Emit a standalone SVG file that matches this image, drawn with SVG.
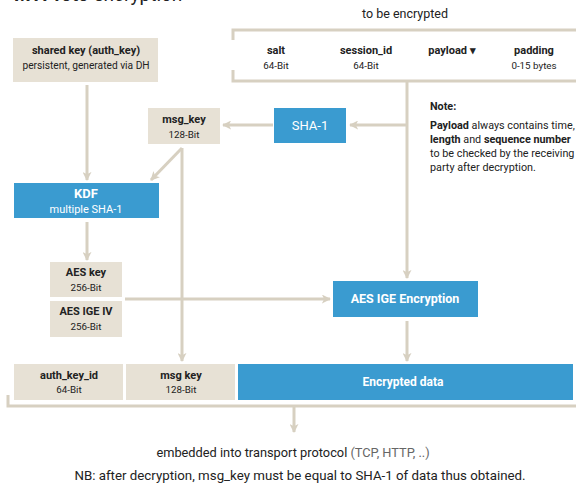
<svg xmlns="http://www.w3.org/2000/svg" width="576" height="484" viewBox="0 0 576 484">
<style>
text{font-family:Roboto,"Liberation Sans",sans-serif;fill:#222;}
.b{font-weight:bold;}
.t{font-size:11px;text-anchor:middle;}
.s{font-size:9.8px;text-anchor:middle;}
.w{fill:#fff;}
.beige{fill:#e7e1d5;}
.blue{fill:#3a9bd0;}
.ln{stroke:#d7d0c1;stroke-width:3;fill:none;}
.n{font-size:10.8px;}
</style>
<defs>
<marker id="ah" viewBox="0 0 10 10" refX="9" refY="5" markerWidth="9" markerHeight="9" markerUnits="userSpaceOnUse" orient="auto">
<path d="M0,0 L10,5 L0,10 L2.5,5 Z" fill="#d7d0c1"/>
</marker>
</defs>
<rect width="576" height="484" fill="#fff"/>
<text x="14" y="1" style="font-size:19px"><tspan class="b">MTProto</tspan> encryption</text>

<g id="connectors">
<polyline class="ln" points="233,40 233,30 576,30"/>
<polyline class="ln" points="233,70 233,81 576,81"/>
<line class="ln" x1="407" y1="81" x2="407" y2="278" marker-end="url(#ah)"/>
<line class="ln" x1="407" y1="125" x2="350" y2="125" marker-end="url(#ah)"/>
<line class="ln" x1="273" y1="125" x2="223" y2="125" marker-end="url(#ah)"/>
<line class="ln" x1="87" y1="85" x2="87" y2="180" marker-end="url(#ah)"/>
<line class="ln" x1="182" y1="148" x2="151" y2="180" marker-end="url(#ah)"/>
<line class="ln" x1="182" y1="148" x2="182" y2="361" marker-end="url(#ah)"/>
<line class="ln" x1="87" y1="222" x2="87" y2="260" marker-end="url(#ah)"/>
<line class="ln" x1="125" y1="299" x2="330" y2="299" marker-end="url(#ah)"/>
<line class="ln" x1="407" y1="321" x2="407" y2="361" marker-end="url(#ah)"/>
<polyline class="ln" points="8,395 8,406 576,406"/>
<line class="ln" x1="294" y1="406" x2="294" y2="432" marker-end="url(#ah)"/>
</g>

<g id="shared-key">
<rect class="beige" x="13" y="38" width="145" height="44"/>
<text class="t b" x="86" y="54">shared key (auth_key)</text>
<text class="s" x="86" y="69" style="font-size:10.2px">persistent, generated via DH</text>
</g>

<g id="to-be-encrypted">
<text x="405" y="18" style="font-size:12.5px;text-anchor:middle">to be encrypted</text>
<text class="t b" x="276" y="54">salt</text>
<text class="s" x="276" y="69">64-Bit</text>
<text class="t b" x="366" y="54">session_id</text>
<text class="s" x="366" y="69">64-Bit</text>
<text class="t b" x="452" y="54">payload ▾</text>
<text class="t b" x="534" y="54">padding</text>
<text class="s" x="534" y="69">0-15 bytes</text>
</g>

<g id="sha1">
<rect class="blue" x="274" y="108" width="72" height="35"/>
<text class="w" x="310" y="130" style="font-size:13px;text-anchor:middle">SHA-1</text>
</g>

<g id="msg-key">
<rect class="beige" x="148" y="108" width="72" height="36"/>
<text class="t b" x="184" y="123">msg_key</text>
<text class="s" x="184" y="138">128-Bit</text>
</g>

<g id="note">
<text x="430" y="110" class="n b">Note:</text>
<text x="430" y="129" class="n"><tspan class="b">Payload</tspan> always contains time,</text>
<text x="430" y="143" class="n"><tspan class="b">length</tspan> and <tspan class="b">sequence number</tspan></text>
<text x="430" y="157" class="n">to be checked by the receiving</text>
<text x="430" y="171" class="n">party after decryption.</text>
</g>

<g id="kdf">
<rect class="blue" x="14" y="183" width="145" height="35"/>
<text class="w b" x="86" y="198" style="font-size:13px;text-anchor:middle">KDF</text>
<text class="w" x="86" y="213" style="font-size:11px;text-anchor:middle">multiple SHA-1</text>
</g>

<g id="aes-key">
<rect class="beige" x="50" y="262" width="72" height="35"/>
<text class="t b" x="86" y="276">AES key</text>
<text class="s" x="86" y="291">256-Bit</text>
</g>

<g id="aes-iv">
<rect class="beige" x="50" y="301" width="72" height="36"/>
<text class="t b" x="86" y="315">AES IGE IV</text>
<text class="s" x="86" y="330">256-Bit</text>
</g>

<g id="aes-ige">
<rect class="blue" x="333" y="281" width="145" height="36"/>
<text class="w b" x="405" y="303" style="font-size:12.5px;text-anchor:middle">AES IGE Encryption</text>
</g>

<g id="auth-key-id">
<rect class="beige" x="14" y="364" width="109" height="36"/>
<text class="t b" x="69" y="379">auth_key_id</text>
<text class="s" x="69" y="393">64-Bit</text>
</g>

<g id="msg-key-2">
<rect class="beige" x="126" y="364" width="109" height="36"/>
<text class="t b" x="181" y="379">msg key</text>
<text class="s" x="181" y="393">128-Bit</text>
</g>

<g id="encrypted-data">
<rect class="blue" x="238" y="364" width="335" height="36"/>
<text class="w b" x="403" y="386" style="font-size:12px;text-anchor:middle">Encrypted data</text>
</g>

<g id="footer">
<text x="293" y="457" style="font-size:12.8px;text-anchor:middle">embedded into transport protocol <tspan fill="#666">(TCP, HTTP, ..)</tspan></text>
<text x="300" y="480" style="font-size:13.3px;text-anchor:middle">NB: after decryption, msg_key must be equal to SHA-1 of data thus obtained.</text>
</g>
</svg>
